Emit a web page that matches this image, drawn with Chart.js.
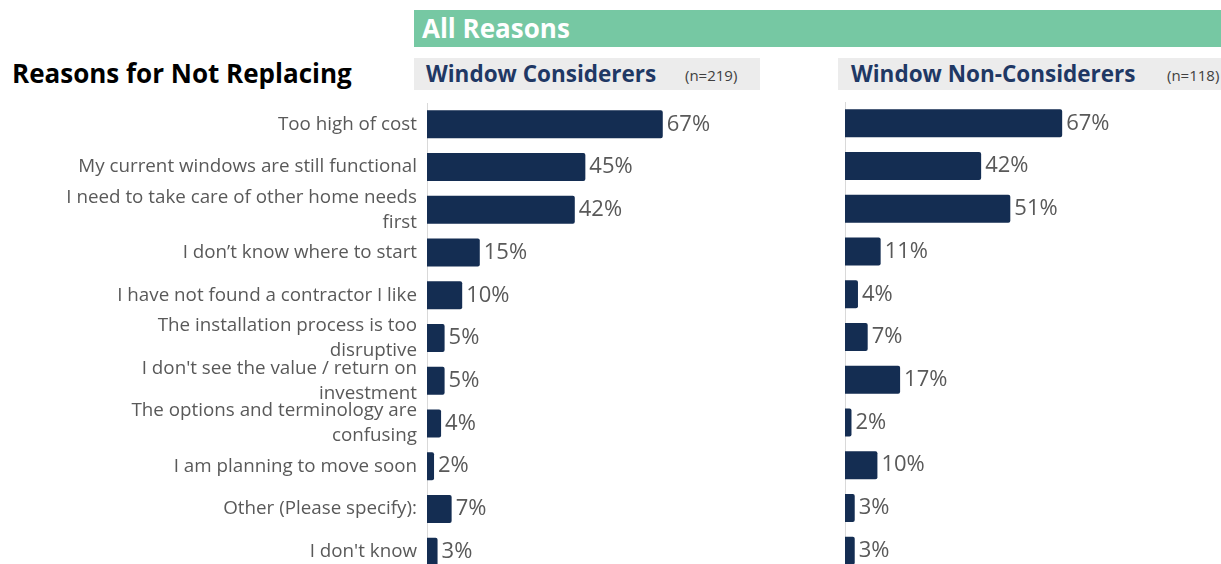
<!DOCTYPE html>
<html>
<head>
<meta charset="utf-8">
<script src="https://cdn.jsdelivr.net/npm/chart.js@4.4.1/dist/chart.umd.min.js"></script>
<style>
  html, body { margin: 0; padding: 0; width: 1221px; height: 564px; overflow: hidden; background: #ffffff; font-family: "Open Sans", sans-serif; }
  .abs { position: absolute; }
  #title { left: 12px; top: 55px; font-size: 26px; font-weight: 700; color: #000000; white-space: nowrap; }
  #allReasons { left: 414px; top: 10px; width: 807px; height: 37px; background: #76c8a3; color: #ffffff; font-size: 26px; font-weight: 700; line-height: 37px; padding-left: 8px; box-sizing: border-box; }
  .panel { top: 58px; height: 32px; background: #ececec; }
  .panelName { position: absolute; top: 0; line-height: 32px; font-size: 22.5px; font-weight: 700; color: #1f3864; white-space: nowrap; }
  .panelN { position: absolute; top: 0; line-height: 35px; font-size: 15px; color: #404040; white-space: nowrap; }
  canvas { position: absolute; }
</style>
</head>
<body>
<div id="title" class="abs">Reasons for Not Replacing</div>
<div id="allReasons" class="abs">All Reasons</div>
<div class="abs panel" style="left:414px;width:346px;">
  <span class="panelName" style="left:12px;">Window Considerers</span>
  <span class="panelN" style="left:271px;">(n=219)</span>
</div>
<div class="abs panel" style="left:838px;width:383px;">
  <span class="panelName" style="left:13px;">Window Non-Considerers</span>
  <span class="panelN" style="left:329px;">(n=118)</span>
</div>
<canvas id="leftChart" width="800" height="470" style="left:0;top:103px;"></canvas>
<canvas id="rightChart" width="391" height="470" style="left:830px;top:102px;"></canvas>
<script>
// Reasons given for not replacing windows (share of respondents, %)
const reasons = [
  "Too high of cost",
  "My current windows are still functional",
  ["I need to take care of other home needs", "first"],
  "I don\u2019t know where to start",
  "I have not found a contractor I like",
  ["The installation process is too", "disruptive"],
  ["I don't see the value / return on", "investment"],
  ["The options and terminology are", "confusing"],
  "I am planning to move soon",
  "Other (Please specify):",
  "I don't know"
];
const considerers = [67, 45, 42, 15, 10, 5, 5, 4, 2, 7, 3];
const nonConsiderers = [67, 42, 51, 11, 4, 7, 17, 2, 10, 3, 3];

const BAR_COLOR = "#142d52";
const TEXT_GRAY = "#595959";

// Writes each bar's percentage just past its end
const valueLabels = {
  id: "valueLabels",
  afterDatasetsDraw(chart) {
    const ctx = chart.ctx;
    const ds = chart.data.datasets[0];
    const meta = chart.getDatasetMeta(0);
    ctx.save();
    ctx.font = "22px 'Open Sans'";
    ctx.fillStyle = TEXT_GRAY;
    ctx.textAlign = "left";
    ctx.textBaseline = "middle";
    meta.data.forEach((bar, i) => {
      ctx.fillText(ds.data[i] + "%", bar.x + 4, bar.y);
    });
    ctx.restore();
  }
};

function makeChart(canvasId, values, xMax, axisWidth, showLabels) {
  return new Chart(document.getElementById(canvasId), {
    type: "bar",
    data: {
      labels: reasons,
      datasets: [{
        data: values,
        backgroundColor: BAR_COLOR,
        borderRadius: 2,
        borderSkipped: "start",
        barPercentage: 0.655,
        categoryPercentage: 1.0
      }]
    },
    options: {
      indexAxis: "y",
      responsive: false,
      animation: false,
      layout: { padding: 0 },
      plugins: { legend: { display: false }, tooltip: { enabled: false } },
      scales: {
        x: { display: false, min: 0, max: xMax },
        y: {
          afterFit(scale) {
            scale.width = axisWidth;
            scale.paddingTop = 0;
            scale.paddingBottom = 0;
          },
          grid: { display: false, drawTicks: false },
          border: { display: true, color: "#d9d9d9", width: 1 },
          ticks: {
            display: showLabels,
            autoSkip: false,
            padding: 10,
            color: TEXT_GRAY,
            font: { family: "'Open Sans'", size: 18.8, lineHeight: 1.33 }
          }
        }
      }
    },
    plugins: [valueLabels]
  });
}

function build() {
  makeChart("leftChart", considerers, 106, 427, true);
  makeChart("rightChart", nonConsiderers, 116, 15, false);
}

if (document.fonts && document.fonts.load) {
  Promise.all([
    document.fonts.load("16px 'Open Sans'"),
    document.fonts.load("22px 'Open Sans'"),
    document.fonts.load("700 24px 'Open Sans'")
  ]).then(build, build);
} else {
  build();
}
</script>
</body>
</html>
